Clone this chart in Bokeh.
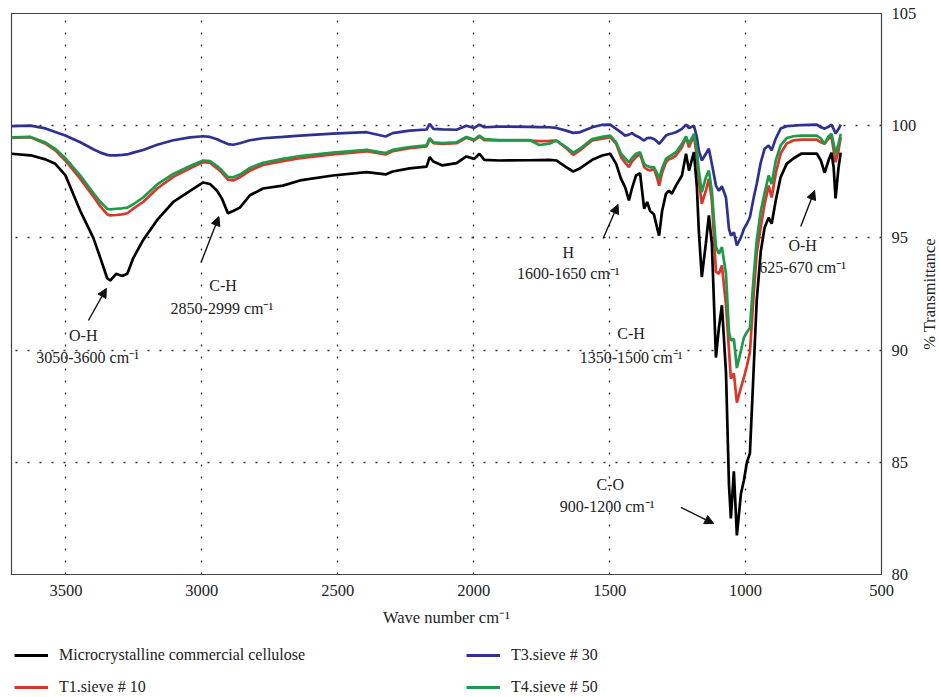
import math
from bokeh.plotting import figure
from bokeh.layouts import column, row
from bokeh.models import Range1d, FixedTicker, Legend, LegendItem, Arrow, NormalHead, ColumnDataSource
from bokeh.core.properties import value
from bokeh.embed import file_html
from bokeh.resources import INLINE

# ---------------- data ----------------
wavenumber = [3700, 3630, 3575, 3539, 3502, 3447, 3399, 3373, 3348, 3337,
              3315, 3293, 3274, 3252, 3216, 3164, 3105, 3043, 2995, 2970,
              2944, 2926, 2904, 2885, 2860, 2823, 2775, 2702, 2639, 2518,
              2394, 2324, 2298, 2236, 2173, 2162, 2148, 2115, 2063, 2027,
              1998, 1979, 1961, 1906, 1795, 1759, 1722, 1696, 1660, 1634,
              1612, 1564, 1527, 1498, 1476, 1458, 1443, 1429, 1418, 1403,
              1388, 1373, 1362, 1351, 1337, 1326, 1318, 1307, 1293, 1282,
              1271, 1256, 1234, 1219, 1208, 1190, 1179, 1172, 1161, 1146,
              1135, 1124, 1109, 1098, 1087, 1072, 1061, 1054, 1043, 1032,
              1017, 1006, 995, 984, 970, 959, 944, 930, 915, 904,
              889, 871, 849, 823, 794, 738, 723, 709, 695, 684,
              676, 669, 658, 650]

microcrystalline = [98.75, 98.68, 98.50, 98.30, 97.80, 96.20, 95.00, 94.10, 93.20, 93.10,
                    93.40, 93.30, 93.40, 94.10, 94.90, 95.80, 96.60, 97.10, 97.47, 97.40,
                    97.10, 96.75, 96.10, 96.20, 96.35, 96.90, 97.20, 97.33, 97.56, 97.78,
                    97.93, 97.83, 97.96, 98.10, 98.18, 98.60, 98.40, 98.23, 98.33, 98.63,
                    98.52, 98.75, 98.48, 98.45, 98.46, 98.47, 98.48, 98.45, 98.15, 97.96,
                    98.08, 98.48, 98.67, 98.75, 98.30, 97.63, 97.26, 96.67, 97.20, 97.78,
                    97.88, 96.30, 96.60, 96.20, 96.05, 95.48, 95.10, 96.20, 96.96, 97.10,
                    96.97, 97.33, 97.78, 98.75, 98.00, 98.82, 97.26, 95.33, 93.25, 94.75,
                    96.00, 94.75, 89.67, 91.00, 92.00, 89.00, 84.00, 82.50, 84.60, 81.74,
                    83.60, 84.20, 85.00, 85.40, 89.20, 92.20, 94.40, 95.46, 95.90, 95.63,
                    96.67, 97.70, 98.30, 98.55, 98.76, 98.76, 98.45, 97.90, 98.45, 98.80,
                    98.14, 96.76, 98.14, 98.80]

t1_sieve10 = [99.46, 99.49, 99.20, 98.90, 98.45, 97.63, 96.85, 96.40, 96.05, 96.00,
              96.02, 96.05, 96.10, 96.30, 96.60, 97.20, 97.72, 98.10, 98.38, 98.35,
              98.10, 97.90, 97.60, 97.56, 97.70, 98.00, 98.25, 98.42, 98.55, 98.72,
              98.86, 98.72, 98.86, 99.00, 99.08, 99.41, 99.22, 99.19, 99.22, 99.46,
              99.34, 99.52, 99.36, 99.34, 99.34, 99.31, 99.32, 99.34, 99.00, 98.70,
              98.88, 99.34, 99.42, 99.49, 99.19, 98.60, 98.35, 98.15, 98.40, 98.60,
              98.75, 98.15, 98.05, 98.00, 98.08, 97.70, 97.33, 97.90, 98.37, 98.50,
              98.55, 98.67, 99.04, 99.49, 99.04, 99.56, 98.60, 97.60, 96.52, 97.10,
              97.63, 96.67, 93.50, 93.40, 93.77, 92.00, 90.00, 88.73, 88.96, 87.66,
              88.33, 88.78, 89.30, 89.90, 92.50, 94.30, 95.50, 96.50, 97.33, 96.80,
              97.87, 98.76, 99.20, 99.35, 99.38, 99.38, 99.26, 99.20, 99.43, 99.49,
              98.90, 98.37, 98.90, 99.49]

t3_sieve30 = [99.98, 100.00, 99.88, 99.72, 99.56, 99.26, 98.95, 98.80, 98.70, 98.68,
              98.68, 98.70, 98.72, 98.80, 98.92, 99.15, 99.35, 99.48, 99.53, 99.50,
              99.40, 99.30, 99.18, 99.15, 99.22, 99.35, 99.44, 99.50, 99.56, 99.65,
              99.71, 99.52, 99.67, 99.78, 99.83, 100.08, 99.86, 99.84, 99.82, 100.00,
              99.90, 100.05, 99.93, 99.96, 99.95, 99.94, 99.93, 99.90, 99.78, 99.68,
              99.70, 99.93, 100.04, 100.05, 99.86, 99.70, 99.56, 99.60, 99.67, 99.55,
              99.46, 99.34, 99.45, 99.46, 99.41, 99.30, 99.19, 99.35, 99.56, 99.62,
              99.65, 99.71, 99.86, 100.05, 99.89, 100.00, 99.49, 98.90, 98.45, 98.75,
              98.97, 98.30, 97.33, 97.10, 97.30, 96.80, 95.40, 95.10, 95.25, 94.66,
              95.03, 95.40, 95.63, 95.92, 96.80, 97.40, 98.37, 98.97, 99.12, 98.90,
              99.43, 99.87, 99.98, 100.00, 100.03, 100.05, 99.93, 99.87, 99.95, 100.05,
              99.85, 99.65, 99.85, 100.05]

t4_sieve50 = [99.48, 99.50, 99.25, 98.97, 98.55, 97.78, 97.00, 96.60, 96.30, 96.27,
              96.30, 96.32, 96.35, 96.50, 96.80, 97.38, 97.85, 98.20, 98.45, 98.42,
              98.20, 98.00, 97.72, 97.70, 97.82, 98.12, 98.35, 98.52, 98.65, 98.80,
              98.92, 98.78, 98.92, 99.05, 99.12, 99.45, 99.26, 99.22, 99.26, 99.50,
              99.38, 99.56, 99.40, 99.36, 99.36, 99.14, 99.20, 99.34, 99.05, 98.80,
              98.95, 99.40, 99.50, 99.56, 99.26, 98.75, 98.55, 98.37, 98.55, 98.75,
              98.82, 98.30, 98.20, 98.15, 98.15, 97.90, 97.63, 98.10, 98.52, 98.62,
              98.70, 98.82, 99.19, 99.52, 99.19, 99.64, 98.90, 98.00, 97.04, 97.70,
              98.00, 97.10, 94.60, 94.29, 94.59, 93.40, 90.80, 90.43, 90.50, 89.20,
              89.98, 90.56, 90.80, 91.00, 93.30, 94.90, 96.20, 97.00, 97.78, 97.40,
              98.45, 99.12, 99.45, 99.53, 99.56, 99.56, 99.43, 99.20, 99.52, 99.64,
              99.20, 98.76, 99.20, 99.64]

series_names = ["Microcrystalline commercial cellulose", "T1.sieve # 10",
                "T3.sieve # 30", "T4.sieve # 50"]

x_ticks = [3500, 3000, 2500, 2000, 1500, 1000, 500]
y_ticks = [80, 85, 90, 95, 100, 105]
x_title = "Wave number cm\u207b\u00b9"
y_title = "% Transmittance"

# band annotations: text, x (cm-1), y (% T)
label_texts = ["O-H", "3050-3600 cm\u207b\u00b9",
               "C-H", "2850-2999 cm\u207b\u00b9",
               "H", "1600-1650 cm\u207b\u00b9",
               "C-H", "1350-1500 cm\u207b\u00b9",
               "O-H", "625-670 cm\u207b\u00b9",
               "C-O", "900-1200 cm\u207b\u00b9"]
label_x = [3436, 3420, 2922, 2926, 1652, 1652, 1421, 1421, 790, 790, 1498, 1509]
label_y = [90.65, 89.67, 92.88, 91.85, 94.35, 93.41, 90.74, 89.67, 94.66, 93.68, 84.0, 83.03]

# arrows: start -> end
arrow_x0 = [3417, 3003, 1524, 797, 1238]
arrow_y0 = [91.32, 93.9, 94.97, 95.51, 82.99]
arrow_x1 = [3351, 2937, 1469, 746, 1117]
arrow_y1 = [92.75, 95.95, 96.49, 97.11, 82.27]

# ---------------- main figure ----------------
FONT = "Liberation Serif"
TXT = "#222222"
colors = {"micro": "#000000", "t1": "#d6382b", "t3": "#2e3192", "t4": "#1f9a48"}
LW = 2.7

y_rng = Range1d(y_ticks[0], y_ticks[-1])
p = figure(width=919, height=640, output_backend="svg", toolbar_location=None,
           x_range=Range1d(3700, 500), y_range=y_rng,
           y_axis_location="right",
           min_border_left=11, min_border_top=13, min_border_right=36, min_border_bottom=66)

p.background_fill_color = "white"
p.border_fill_color = "white"
p.outline_line_color = "#444444"
p.outline_line_width = 1.2

p.xaxis.ticker = FixedTicker(ticks=x_ticks)
p.yaxis.ticker = FixedTicker(ticks=y_ticks)
p.xgrid.ticker = FixedTicker(ticks=x_ticks[:-1])
p.ygrid.ticker = FixedTicker(ticks=y_ticks[1:-1])
for g in (p.xgrid, p.ygrid):
    g.grid_line_color = "#333333"
    g.grid_line_dash = "2 10"
    g.grid_line_width = 1.3

for ax in (p.xaxis, p.yaxis):
    ax.axis_line_color = "#444444"
    ax.major_tick_line_color = None
    ax.minor_tick_line_color = None
    ax.major_tick_out = 0
    ax.major_tick_in = 0
    ax.minor_tick_out = 0
    ax.minor_tick_in = 0
    ax.major_label_text_font = FONT
    ax.major_label_text_font_size = "16.5px"
    ax.major_label_text_color = TXT
    ax.axis_label_text_font = FONT
    ax.axis_label_text_font_size = "16.5px"
    ax.axis_label_text_font_style = "normal"
    ax.axis_label_text_color = TXT

p.xaxis.axis_label = x_title
p.xaxis.major_label_standoff = 10
p.xaxis.axis_label_standoff = 9
p.yaxis.major_label_standoff = 10

src = ColumnDataSource(dict(wn=wavenumber, micro=microcrystalline, t1=t1_sieve10,
                            t3=t3_sieve30, t4=t4_sieve50))

for key in ["t3", "t1", "t4", "micro"]:
    p.line("wn", key, source=src, line_color=colors[key], line_width=LW)

# annotations
lsrc = ColumnDataSource(dict(x=label_x, y=label_y, t=label_texts))
p.text("x", "y", text="t", source=lsrc, text_font=value(FONT), text_font_size="16px",
       text_color=TXT, text_align="center", text_baseline="middle")

for xs, ys, xe, ye in zip(arrow_x0, arrow_y0, arrow_x1, arrow_y1):
    p.add_layout(Arrow(x_start=xs, y_start=ys, x_end=xe, y_end=ye,
                       line_color="#111111", line_width=1.4,
                       end=NormalHead(size=9, fill_color="#111111", line_color="#111111")))

# ---------------- y-axis title strip (reads bottom to top) ----------------
r = figure(width=20, height=640, output_backend="svg", toolbar_location=None,
           x_range=Range1d(0, 1), y_range=y_rng,
           min_border=0, min_border_left=0, min_border_right=0,
           min_border_top=13, min_border_bottom=66)
r.axis.visible = False
r.grid.visible = False
r.outline_line_color = None
r.background_fill_color = "white"
r.border_fill_color = "white"
r.text(x=[0.5], y=[(y_ticks[0] + y_ticks[-1]) / 2], text=[y_title], angle=math.pi / 2,
       text_font=value(FONT), text_font_size="16.5px", text_color=TXT,
       text_align="center", text_baseline="middle")

# ---------------- legend strip (same series, outside its visible range) ----------------
q = figure(width=939, height=57, output_backend="svg", toolbar_location=None,
           x_range=Range1d(0, 1), y_range=Range1d(0, 1),
           min_border=0, min_border_left=0, min_border_right=0,
           min_border_top=0, min_border_bottom=0)
q.axis.visible = False
q.grid.visible = False
q.outline_line_color = None
q.background_fill_color = "white"
q.border_fill_color = "white"

leg_r = {}
for key in ["micro", "t1", "t3", "t4"]:
    leg_r[key] = q.line("wn", key, source=src, line_color=colors[key], line_width=3)

common = dict(orientation="vertical", glyph_width=34, glyph_height=20, label_height=20,
              label_standoff=11, spacing=12, padding=0, margin=0,
              border_line_alpha=0, background_fill_alpha=0,
              label_text_font=FONT, label_text_font_size="16px", label_text_color=TXT)
legend_a = Legend(items=[LegendItem(label=series_names[0], renderers=[leg_r["micro"]]),
                         LegendItem(label=series_names[1], renderers=[leg_r["t1"]])],
                  location=(14, 0), **common)
legend_b = Legend(items=[LegendItem(label=series_names[2], renderers=[leg_r["t3"]]),
                         LegendItem(label=series_names[3], renderers=[leg_r["t4"]])],
                  location=(466, 0), **common)
q.add_layout(legend_a)
q.add_layout(legend_b)

layout = column(row(p, r, spacing=0), q, spacing=0)
open("out.html", "w").write(file_html(layout, INLINE))
